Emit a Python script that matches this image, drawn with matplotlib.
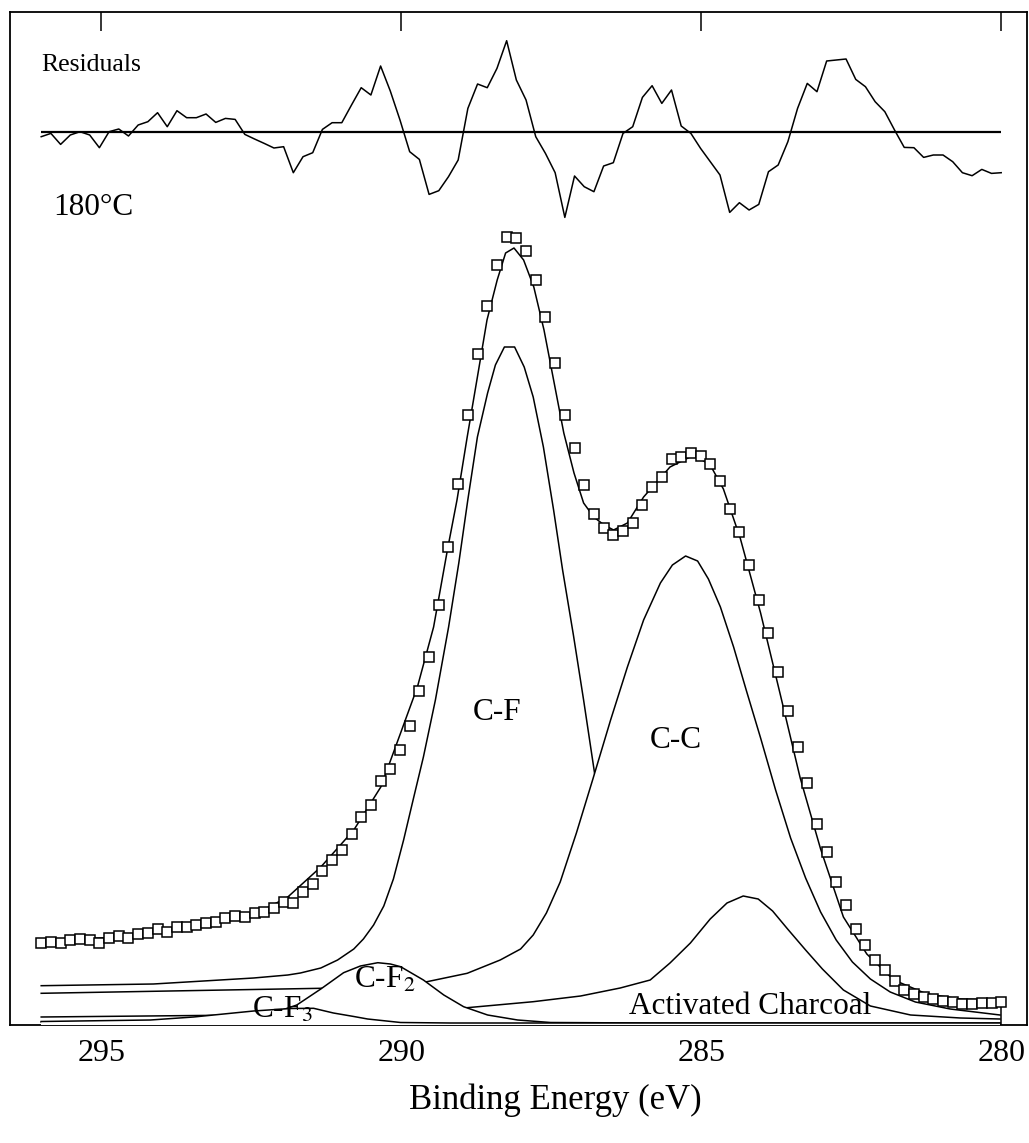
import numpy as np
import matplotlib
matplotlib.use("Agg")
import matplotlib.pyplot as plt

plt.rcParams['font.family'] = ['Liberation Serif', 'DejaVu Serif']
plt.rcParams['mathtext.fontset'] = 'stix'

## DADOS DO ESPECTRO C1s (intensidade em unidades arbitrarias) ##
binding_energy = np.linspace(296.0, 280.0, 100)

counts = [
    82.3, 83.3, 81.7, 85.0, 85.7, 85.0, 82.3, 87.3, 89.0, 86.7,
    91.0, 92.3, 95.7, 93.3, 98.3, 98.3, 100.0, 102.3, 103.3, 107.3,
    109.0, 108.3, 112.3, 113.3, 116.7, 123.3, 122.3, 133.3, 141.0, 154.3,
    165.0, 175.0, 190.7, 207.7, 220.0, 244.0, 256.0, 275.0, 299.0, 333.7,
    368.3, 420.0, 478.0, 541.0, 610.0, 671.0, 719.0, 760.0, 788.0, 787.0,
    774.0, 745.0, 708.0, 662.0, 610.0, 577.0, 540.0, 511.0, 497.0, 490.0,
    494.0, 502.0, 520.0, 538.0, 548.0, 566.0, 568.0, 572.0, 569.0, 561.0,
    544.0, 516.0, 493.0, 460.0, 425.0, 392.0, 353.0, 314.0, 278.0, 242.0,
    201.0, 173.0, 143.0, 120.0, 96.0, 80.0, 65.0, 55.0, 44.0, 35.0,
    31.0, 28.0, 26.0, 24.5, 23.0, 21.0, 21.0, 22.0, 22.5, 23.5,
]

# residuos (escala ampliada), desenhados acima do espectro
residuals = [
    -5.0, -1.7, -12.7, -3.3, 0.0, -3.3, -16.0, 0.0, 2.7, -4.3,
    6.7, 10.0, 19.0, 5.0, 21.0, 14.0, 14.0, 17.7, 9.3, 13.3,
    12.3, -2.7, -7.3, -11.7, -16.3, -15.0, -41.0, -25.0, -21.0, 2.3,
    9.0, 9.0, 26.7, 44.0, 36.7, 65.7, 40.7, 11.7, -20.0, -27.7,
    -62.7, -59.0, -45.0, -28.3, 23.3, 47.7, 44.0, 63.3, 91.0, 51.7,
    31.7, -5.0, -21.7, -41.0, -85.7, -44.3, -55.0, -60.0, -34.3, -31.0,
    -1.7, 5.0, 34.3, 46.0, 28.3, 41.7, 5.7, -1.7, -16.7, -30.0,
    -43.3, -80.7, -71.0, -78.3, -72.7, -40.0, -33.3, -10.0, 23.3, 48.3,
    40.0, 70.7, 71.7, 72.7, 52.3, 45.0, 30.0, 20.0, 1.7, -15.7,
    -16.0, -25.7, -23.3, -23.3, -30.0, -41.0, -44.0, -37.7, -41.7, -41.0,
]
residual_offset = 893.3

# envelope do ajuste
fit_energy = [296.0, 294.68, 293.56, 292.46, 291.89, 291.34, 290.79, 290.34,
              290.01, 289.73, 289.46, 289.23, 289.07, 288.90, 288.73, 288.57,
              288.40, 288.26, 288.12, 287.96, 287.79, 287.62, 287.46, 287.29,
              287.12, 286.96, 286.79, 286.62, 286.46, 286.23, 285.96, 285.52,
              285.12, 284.85, 284.63, 284.35, 284.01, 283.68, 283.35, 283.01,
              282.63, 282.24, 281.79, 281.24, 280.68, 280.02]
fit_total = [84, 88, 97, 110, 128, 158, 195, 238,
             292, 338, 398, 475, 525, 588, 648, 705,
             745, 772, 777, 765, 738, 695, 645, 592,
             552, 522, 508, 500, 495, 502, 528, 558,
             570, 560, 536, 487, 412, 330, 247, 176,
             108, 71, 45, 31, 26, 25]

# componentes (cada uma com o fundo somado)
cf_energy = [296.0, 294.13, 292.46, 291.89, 291.68, 291.34, 291.06, 290.79,
             290.63, 290.46, 290.29, 290.13, 289.96, 289.79, 289.63, 289.43,
             289.21, 289.04, 288.89, 288.73, 288.56, 288.43, 288.28, 288.11,
             287.95, 287.80, 287.63, 287.46, 287.31, 287.13, 286.96, 286.76]
cf_int = [39.3, 41, 47, 50, 52, 57, 65, 76,
          86, 100, 119, 146, 185, 228, 268, 325,
          398, 462, 525, 588, 632, 660, 678, 678,
          658, 628, 578, 515, 455, 390, 325, 245]

cc_energy = [296.0, 291.34, 290.34, 289.57, 288.90, 288.35, 288.01, 287.80,
             287.58, 287.35, 287.08, 286.80, 286.51, 286.23, 285.96, 285.68,
             285.48, 285.26, 285.06, 284.88, 284.68, 284.46, 284.25, 284.01,
             283.76, 283.51, 283.26, 283.01, 282.75, 282.48, 282.18, 281.85,
             281.43, 280.85, 280.02]
cc_int = [31.7, 36.7, 39, 43.3, 51.7, 65, 76, 90,
          112, 143, 192, 247, 305, 358, 405, 442,
          460, 469, 464, 446, 418, 378, 335, 287,
          235, 187, 147, 113, 85, 63, 46, 33,
          23, 16, 10]

ac_energy = [296.0, 292.51, 290.01, 288.90, 287.80, 287.01, 286.35, 285.85,
             285.52, 285.18, 284.85, 284.57, 284.30, 284.05, 283.81, 283.56,
             283.26, 282.98, 282.63, 282.18, 281.51, 280.68, 280.02]
ac_int = [8, 10, 14, 17.3, 23.3, 29, 37, 45,
          62, 82, 106, 122, 129, 126, 114, 96,
          75, 56, 35, 19, 10, 7, 6]

cf2_energy = [296.0, 293.34, 292.73, 292.23, 291.74, 291.34, 290.96, 290.68,
              290.39, 290.18, 290.01, 289.63, 289.29, 288.96, 288.56, 288.06,
              287.51, 285.85, 280.02]
cf2_int = [3, 3.5, 5, 10, 20, 36, 52.3, 59,
           62.3, 61, 58.3, 45, 30, 18.3, 10, 5,
           2.5, 2, 2]

cf3_energy = [296.0, 294.18, 293.46, 292.46, 291.84, 291.46, 291.13, 290.79,
              290.56, 290.01, 289.18, 280.02]
cf3_int = [3.5, 5, 8, 14, 16.5, 16.7, 12, 8.5,
           6, 2.5, 2, 2]

# ordem de desenho: as ultimas cobrem as anteriores
components = [
    (cf_energy, cf_int),
    (cc_energy, cc_int),
    (ac_energy, ac_int),
    (cf2_energy, cf2_int),
    (cf3_energy, cf3_int),
]

## GRAFICO ##
fig = plt.figure(figsize=(10.29, 11.43), dpi=100)
ax = fig.add_axes([10 / 1029, 118 / 1143, 1017 / 1029, 1013 / 1143])

for z, (e, y) in enumerate(components, start=2):
    ax.fill_between(e, 0, y, facecolor='white', edgecolor='none', zorder=z)
    ax.plot(e, y, color='black', lw=1.1, zorder=z + 0.5)

ax.plot(fit_energy, fit_total, color='black', lw=1.1, zorder=8)
ax.plot(binding_energy, counts, linestyle='none', marker='s', markersize=7,
        markerfacecolor='white', markeredgecolor='black', markeredgewidth=1.1, zorder=9)

res = np.array(residuals) + residual_offset
ax.plot(binding_energy, res, color='black', lw=1.1, zorder=8)
ax.hlines(residual_offset, binding_energy[0], binding_energy[-1], color='black', lw=1.6, zorder=8)

label_kw = dict(fontsize=22.5, zorder=10)
ax.text(288.40, 1025 - 713, 'C-F', ha='center', va='center', **label_kw)
ax.text(285.42, 1025 - 741, 'C-C', ha='center', va='center', **label_kw)
ax.text(290.78, 1025 - 980, 'C-F$_2$', ha='left', va='center', **label_kw)
ax.text(292.48, 1025 - 1010, 'C-F$_3$', ha='left', va='center', **label_kw)
ax.text(284.18, 1025 - 1006, 'Activated Charcoal', ha='center', va='center', **label_kw)
ax.text(295.16, 1025 - 65, 'Residuals', ha='center', va='center', fontsize=18.5)
ax.text(295.13, 1025 - 207, '180°C', ha='center', va='center', fontsize=22.5)

ax.set_xlim(296.52, 279.57)
ax.set_ylim(0, 1013)
ax.set_xticks([295, 290, 285, 280])
ax.set_yticks([])
ax.tick_params(axis='x', direction='in', top=True, bottom=True, length=14,
               width=1.1, labelsize=23, pad=10)
for sp in ax.spines.values():
    sp.set_linewidth(1.3)

fig.text(555 / 1029, 1 - 1100 / 1143, 'Binding Energy (eV)', ha='center', va='center', fontsize=25)

plt.savefig('out.png', dpi=100)
plt.close()
